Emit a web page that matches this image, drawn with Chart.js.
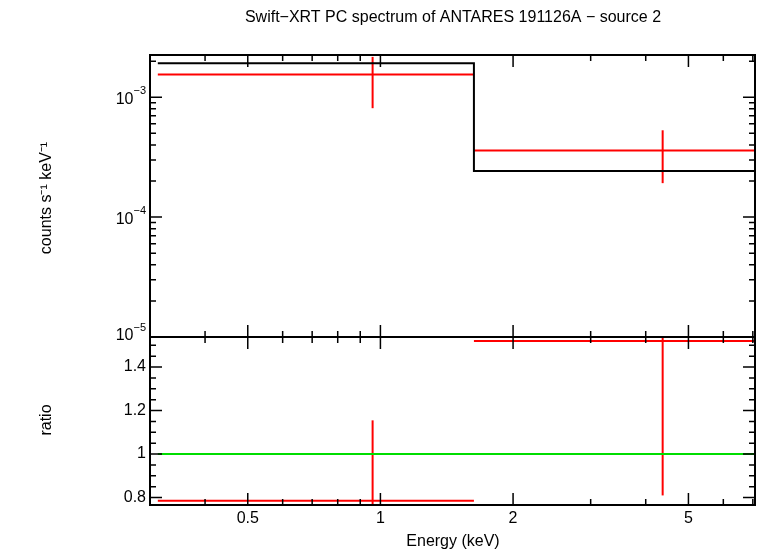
<!DOCTYPE html>
<html><head><meta charset="utf-8">
<script src="https://cdn.jsdelivr.net/npm/chart.js@4/dist/chart.umd.min.js"></script>
<style>
body{margin:0;background:#fff}
#wrap{position:relative;width:758px;height:556px}
#top{position:absolute;left:0;top:0}
#bot{position:absolute;left:0;top:337px}
</style></head><body>
<div id="wrap">
<div id="top" style="width:758px;height:340px"><canvas id="c1"></canvas></div>
<div id="bot" style="width:758px;height:219px"><canvas id="c2"></canvas></div>
</div>
<script>
// energy bins (keV)
const binLo = [0.3125, 1.63]
const binHi = [1.63, 7.08]
const binCenter = [0.96, 4.37]
// spectrum data
const counts = [1.55e-3, 3.6e-4]
const countsLo = [8.1e-4, 1.92e-4]
const countsHi = [2.17e-3, 5.3e-4]
const model = [1.92e-3, 2.42e-4]
// ratio
const ratio = [0.785, 1.52]
const ratioLo = [0.70, 0.81]
const ratioHi = [1.155, 1.7]
const xTicks = [0.5, 1, 2, 5]

const font = '"Liberation Sans", Arial, sans-serif'
const red = '#ff0000', black = '#000000', green = '#00dd00'
const xMin = 0.3125, xMax = 7.08

const seg = (x1, y1, x2, y2, color) => ({
  data: [{x: x1, y: y1}, {x: x2, y: y2}], borderColor: color, borderWidth: 2,
  pointRadius: 0, fill: false, tension: 0
})

const minorLog = (min, max) => {
  const out = []
  for (let e = -6; e <= 2; e++) for (let m = 1; m < 10; m++) {
    const v = m * Math.pow(10, e)
    if (v > min * 1.0001 && v < max * 0.9999) out.push({v: v, major: m === 1})
  }
  return out
}

// frame, inward ticks and labels
const framePlugin = (opts) => ({
  id: 'frame',
  afterDraw(chart) {
    const c = chart.ctx, a = chart.chartArea
    const xs = chart.scales.x, ys = chart.scales.y
    c.save()
    c.strokeStyle = black
    c.lineWidth = 2
    c.strokeRect(a.left, a.top, a.right - a.left, a.bottom - a.top)
    c.lineWidth = 1.5
    c.beginPath()
    minorLog(xs.min, xs.max).forEach(t => {
      const px = xs.getPixelForValue(t.v)
      const L = (t.major || xTicks.includes(t.v)) ? 12 : 6
      c.moveTo(px, a.bottom); c.lineTo(px, a.bottom - L)
      c.moveTo(px, a.top); c.lineTo(px, a.top + L)
    })
    opts.yTicks(ys).forEach(t => {
      const py = ys.getPixelForValue(t.v)
      const L = t.major ? 12 : 6
      c.moveTo(a.left, py); c.lineTo(a.left + L, py)
      c.moveTo(a.right, py); c.lineTo(a.right - L, py)
    })
    c.stroke()
    c.fillStyle = black
    opts.labels(c, chart)
    c.restore()
  }
})

new Chart(document.getElementById('c1'), {
  type: 'line',
  data: {datasets: [
    {data: [{x: binLo[0], y: model[0]}, {x: binHi[0], y: model[0]}, {x: binLo[1], y: model[1]}, {x: binHi[1], y: model[1]}],
     borderColor: black, borderWidth: 2, pointRadius: 0, fill: false, tension: 0},
    ...counts.map((v, i) => seg(binLo[i], v, binHi[i], v, red)),
    ...counts.map((v, i) => seg(binCenter[i], countsLo[i], binCenter[i], countsHi[i], red))
  ]},
  options: {
    animation: false, maintainAspectRatio: false, responsive: true,
    layout: {padding: {top: 55, right: 3, bottom: 3, left: 0}},
    plugins: {legend: {display: false}, tooltip: {enabled: false}},
    scales: {
      x: {type: 'logarithmic', min: xMin, max: xMax, display: false},
      y: {type: 'logarithmic', min: 1e-5, max: 2.25e-3, grid: {display: false},
          ticks: {display: false}, border: {display: false},
          afterFit: s => { s.width = 150 }}
    }
  },
  plugins: [framePlugin({
    yTicks: ys => minorLog(ys.min, ys.max * 1.001),
    labels: (c, chart) => {
      const ys = chart.scales.y, a = chart.chartArea
      c.textBaseline = 'middle'
      ;[-3, -4, -5].forEach(e => {
        const py = ys.getPixelForValue(Math.pow(10, e)) - (e === -5 ? 3 : 0)
        c.font = '11px ' + font; c.textAlign = 'left'
        const sup = String(e).replace('-', '\u2212')
        const sw = c.measureText(sup).width
        c.fillText(sup, a.left - 4 - sw, py - 6)
        c.font = '16px ' + font; c.textAlign = 'right'
        c.fillText('10', a.left - 4 - sw, py + 2)
      })
      c.font = '16px ' + font; c.textAlign = 'center'
      c.fillText('Swift\u2212XRT PC spectrum of ANTARES 191126A \u2212 source 2', 453, 18)
      c.save(); c.translate(47, 198); c.rotate(-Math.PI / 2)
      c.fillText('counts s\u207b\u00b9 keV\u207b\u00b9', 0, 0)
      c.restore()
    }
  })]
})

new Chart(document.getElementById('c2'), {
  type: 'line',
  data: {datasets: [
    seg(xMin, 1, xMax, 1, green),
    ...ratio.map((v, i) => seg(binLo[i], v, binHi[i], v, red)),
    ...ratio.map((v, i) => seg(binCenter[i], ratioLo[i], binCenter[i], ratioHi[i], red))
  ]},
  options: {
    animation: false, maintainAspectRatio: false, responsive: true,
    layout: {padding: {top: 0, right: 3, bottom: 0, left: 0}},
    plugins: {legend: {display: false}, tooltip: {enabled: false}},
    scales: {
      x: {type: 'logarithmic', min: xMin, max: xMax, grid: {display: false},
          ticks: {display: false}, border: {display: false},
          afterFit: s => { s.height = 51 }},
      y: {min: 0.766, max: 1.538, grid: {display: false},
          ticks: {display: false}, border: {display: false},
          afterFit: s => { s.width = 150 }}
    }
  },
  plugins: [framePlugin({
    yTicks: ys => {
      const out = []
      for (let k = 16; k <= 30; k++) {
        const v = k * 0.05
        if (v > ys.min && v < ys.max) out.push({v: v, major: k % 4 === 0})
      }
      return out
    },
    labels: (c, chart) => {
      const ys = chart.scales.y, xs = chart.scales.x, a = chart.chartArea
      c.font = '16px ' + font
      c.textAlign = 'right'; c.textBaseline = 'middle'
      ;[0.8, 1, 1.2, 1.4].forEach(v => c.fillText(String(v), a.left - 4, ys.getPixelForValue(v)))
      c.textAlign = 'center'; c.textBaseline = 'top'
      xTicks.forEach(v => c.fillText(String(v), xs.getPixelForValue(v), a.bottom + 6))
      c.fillText('Energy (keV)', 453, a.bottom + 29)
      c.save(); c.translate(47, 420 - 337); c.rotate(-Math.PI / 2)
      c.textBaseline = 'middle'
      c.fillText('ratio', 0, 0)
      c.restore()
    }
  })]
})
</script>
</body></html>
